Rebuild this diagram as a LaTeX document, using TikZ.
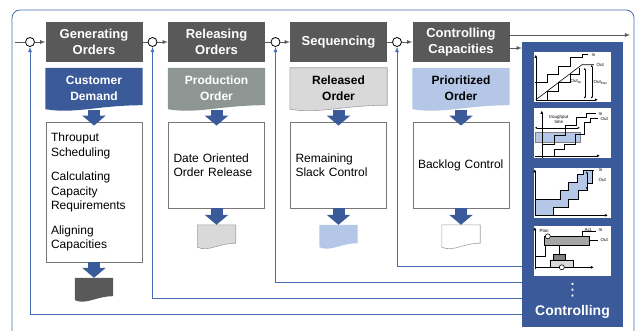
\documentclass[tikz,border=0pt]{standalone}
\usepackage{fontspec}
\setmainfont{Liberation Sans}
\newfontfamily\symfont{DejaVu Sans}
\tikzset{>=latex}
\usetikzlibrary{positioning,calc,backgrounds,arrows.meta}
\definecolor{hdrgray}{RGB}{89,89,89}
\definecolor{ctrlblue}{RGB}{59,90,154}
\definecolor{fbblue}{RGB}{72,108,180}
\definecolor{prodgray}{RGB}{141,150,146}
\definecolor{relgray}{RGB}{217,217,217}
\definecolor{prioblue}{RGB}{180,199,231}
\definecolor{boxline}{RGB}{120,120,120}
\tikzset{
  hdr/.style={fill=hdrgray, text=white, font=\fontsize{13}{16}\selectfont\bfseries, minimum width=97pt, minimum height=40pt, align=center, inner sep=0pt},
  doc/.style={minimum width=97pt, minimum height=40pt, align=center, inner sep=0pt, font=\fontsize{12}{16}\selectfont\bfseries},
  smalldoc/.style={minimum width=38pt, minimum height=21pt, inner sep=0pt},
  task/.style={draw=boxline, fill=white, line width=0.8pt, minimum width=96pt, minimum height=86pt, text width=86pt, inner xsep=5pt, align=left, font=\fontsize{12}{14.5}\selectfont},
  junction/.style={draw, circle, fill=white, inner sep=0pt, minimum size=9pt, line width=0.8pt},
  mainline/.style={draw=hdrgray, line width=0.8pt},
  fb/.style={draw=fbblue, line width=0.8pt},
  bigarrow/.style={draw=ctrlblue, line width=12pt, -{Triangle[width=23pt,length=10pt]}},
  chart/.style={fill=white, minimum width=77pt, minimum height=50pt, inner sep=0pt},
  chartlbl/.style={font=\fontsize{4.5}{5}\selectfont, inner sep=0.5pt, anchor=west},
  chartaxis/.style={line width=0.5pt, -{Latex[length=3pt,width=3pt]}},
  dbl/.style={line width=0.4pt, {Latex[length=2pt,width=2pt]}-{Latex[length=2pt,width=2pt]}}
}
\newcommand{\wavedoc}[2]{%
  \path[#2] (#1.north west) -- (#1.north east) -- ([yshift=3pt]#1.south east)
    .. controls ($(#1.south east)!0.45!(#1.south west)+(0,3pt)$) and ($(#1.south east)!0.7!(#1.south west)+(0,-6pt)$) .. ([yshift=-1pt]#1.south west) -- cycle;}

\begin{document}
\begin{tikzpicture}[x=1pt,y=-1pt]
  \useasboundingbox (0,0) rectangle (636,331);
  \draw[fb, rounded corners=8pt] (12,340) -- (12,10) -- (634,10) -- (634,340);

  \node[hdr] (h1) at (94,42) {Generating\\Orders};
  \node[hdr, right of=h1, node distance=122.5pt] (h2) {Releasing\\Orders};
  \node[hdr, right of=h2, node distance=122pt] (h3) {Sequencing};
  \node[hdr, right of=h3, node distance=122.5pt] (h4) {Controlling\\Capacities};

  \node[doc, below of=h1, node distance=46pt, text=white] (d1) {Customer\\Demand};
  \node[doc, below of=h2, node distance=46pt, text=white] (d2) {Production\\Order};
  \node[doc, below of=h3, node distance=46pt] (d3) {Released\\Order};
  \node[doc, below of=h4, node distance=46pt] (d4) {Prioritized\\Order};
  \begin{scope}[on background layer]
    \wavedoc{d1}{fill=ctrlblue}
    \wavedoc{d2}{fill=prodgray}
    \wavedoc{d3}{fill=relgray, draw=boxline!70, line width=0.6pt}
    \wavedoc{d4}{fill=prioblue}
  \end{scope}

  \node[task, below of=d1, node distance=104pt, minimum height=140pt] (b1) {Throuput\\Scheduling\\[10pt]Calculating\\Capacity\\Requirements\\[10pt]Aligning\\Capacities};
  \node[task, below of=d2, node distance=77pt] (b2) {Date Oriented\\Order Release};
  \node[task, below of=d3, node distance=77pt] (b3) {Remaining\\Slack Control};
  \node[task, below of=d4, node distance=77pt] (b4) {Backlog Control};

  \node[smalldoc, below of=b1, node distance=96.5pt] (r1) {};
  \node[smalldoc, below of=b2, node distance=70.5pt] (r2) {};
  \node[smalldoc, below of=b3, node distance=70.5pt] (r3) {};
  \node[smalldoc, below of=b4, node distance=70.5pt] (r4) {};
  \wavedoc{r1}{fill=hdrgray}
  \wavedoc{r2}{fill=relgray, draw=boxline!70, line width=0.6pt}
  \wavedoc{r3}{fill=prioblue}
  \wavedoc{r4}{fill=white, draw=boxline!70, line width=0.6pt}

  \draw[bigarrow] ([yshift=-2pt]d1.south) -- ([yshift=-4pt]b1.north);
  \draw[bigarrow] ([yshift=-2pt]d2.south) -- ([yshift=-4pt]b2.north);
  \draw[bigarrow] ([yshift=-2pt]d3.south) -- ([yshift=-4pt]b3.north);
  \draw[bigarrow] ([yshift=-2pt]d4.south) -- ([yshift=-4pt]b4.north);
  \draw[bigarrow] (b1.south) -- (r1.north);
  \draw[bigarrow] (b2.south) -- (r2.north);
  \draw[bigarrow] (b3.south) -- (r3.north);
  \draw[bigarrow] (b4.south) -- (r4.north);

  \node[junction, left of=h1, node distance=64pt] (c1) {};
  \node[junction, left of=h2, node distance=64pt] (c2) {};
  \node[junction, left of=h3, node distance=63pt] (c3) {};
  \node[junction, left of=h4, node distance=64pt] (c4) {};
  \coordinate[left of=c1, node distance=15pt] (in);
  \draw[mainline] (in) -- (c1);
  \draw[mainline,->] (c1) -- (h1);
  \draw[mainline] (h1) -- (c2);
  \draw[mainline,->] (c2) -- (h2);
  \draw[mainline] (h2) -- (c3);
  \draw[mainline,->] (c3) -- (h3);
  \draw[mainline] (h3) -- (c4);
  \draw[mainline,->] (c4) -- (h4);

  \node[fill=ctrlblue, minimum width=101pt, minimum height=285pt, inner sep=0pt] (ctrl) at (572.5,184.5) {};
  \coordinate[right of=h4, node distance=169pt, yshift=7pt] (out);
  \draw[mainline,->] ([yshift=7pt]h4.east) -- (out);
  \draw[mainline,->] ([yshift=-6pt]h4.east) -- ([yshift=-6pt]h4.east -| ctrl.west);

  \draw[fb,->] ([yshift=13pt]ctrl.south west) -| (c1);
  \draw[fb,->] ([yshift=29pt]ctrl.south west) -| (c2);
  \draw[fb,->] ([yshift=45pt]ctrl.south west) -| (c3);
  \draw[fb,->] ([yshift=61pt]ctrl.south west) -| (c4);

  \node[chart] (g1) at (572.5,77) {};
  \node[chart, below of=g1, node distance=56pt] (g2) {};
  \node[chart, below of=g2, node distance=59.5pt] (g3) {};
  \node[chart, below of=g3, node distance=58pt] (g4) {};
  \node[text=white, font=\fontsize{17}{17}\symfont, inner sep=0pt, below of=g4, node distance=40pt] (dots) {⋮};
  \node[text=white, font=\fontsize{14}{16}\selectfont\bfseries, below of=dots, node distance=21pt] (ctrltext) {Controlling};

  \begin{scope}[shift={(g1.north west)}, line width=0.6pt]
    \draw[chartaxis] (2,48) -- (2,3);
    \draw[chartaxis] (2,48) -- (64,48);
    \draw (1,31) -- (13,31) -- (13,23) -- (24,23) -- (24,15) -- (36,15) -- (36,6) -- (48,6) -- (48,3) -- (54,3);
    \draw (2,48) -- (48,13) -- (60,13);
    \draw (13,48) -- (13,40) -- (24,40) -- (24,31) -- (36,31) -- (36,23) -- (45,23) -- (45,16);
    \draw[dbl] (51,16) -- (51,47);
    \draw[dbl] (58,13) -- (58,47);
    \node[chartlbl] at (57,3) {In};
    \node[chartlbl] at (62,13) {Out};
    \node[chartlbl] at (36,30) {Out\textsubscript{Ist}};
    \node[chartlbl] at (59,31) {Out\textsubscript{Plan}};
  \end{scope}

  \begin{scope}[shift={(g2.north west)}, line width=0.6pt]
    \draw[gray, fill=prioblue, line width=0.4pt] (1,24) rectangle (46,34);
    \draw[chartaxis] (8,50) -- (8,3);
    \draw[chartaxis] (1,48) -- (66,48);
    \draw[dbl] (1,20) -- (46,20);
    \node[chartlbl, anchor=center, align=center] at (25,12) {troughput\\time};
    \draw (8,37) -- (20,37) -- (20,28) -- (31,28) -- (31,18) -- (42,18) -- (42,10) -- (52,10) -- (52,6) -- (62,6);
    \draw (20,48) -- (20,42) -- (30,42) -- (30,37) -- (41,37) -- (41,27) -- (50,27) -- (50,15) -- (56,15) -- (56,11) -- (64,11);
    \node[chartlbl] at (64,6) {In};
    \node[chartlbl] at (66,11) {Out};
  \end{scope}

  \begin{scope}[shift={(g3.north west)}, line width=0.6pt]
    \fill[prioblue] (1,32) -- (26,32) -- (26,23) -- (34,23) -- (34,15) -- (43,15) -- (43,7) -- (49,7) -- (49,3) -- (58,3) -- (58,16) -- (53,16) -- (53,23) -- (44,23) -- (44,32) -- (34,32) -- (34,40) -- (19,40) -- (19,48) -- (1,48) -- cycle;
    \draw[chartaxis] (1,49) -- (1,2);
    \draw[chartaxis] (1,48) -- (74,48);
    \draw (1,32) -- (26,32) -- (26,23) -- (34,23) -- (34,15) -- (43,15) -- (43,7) -- (49,7) -- (49,3) -- (60,3);
    \draw (19,48) -- (19,40) -- (34,40) -- (34,32) -- (44,32) -- (44,23) -- (53,23) -- (53,16) -- (58,16) -- (58,3);
    \draw[dbl] (53,4) -- (53,22);
    \node[chartlbl] at (64,3) {In};
    \node[chartlbl] at (64,13) {Out};
  \end{scope}

  \begin{scope}[shift={(g4.north west)}, line width=0.6pt]
    \draw[chartaxis] (1,44) -- (1,2);
    \draw[chartaxis] (1,42) -- (60,42);
    \node[chartlbl] at (5,6) {Plan};
    \draw (1,31) -- (11,31) -- (11,20);
    \draw (25,20) -- (25,29);
    \draw[fill=gray!70] (10,11) rectangle (55,20);
    \draw[fill=white] (14,11) circle (2.5pt);
    \draw (38,11) -- (48,11) -- (48,6) -- (62,6);
    \draw (55,15) -- (64,15);
    \draw[fill=gray] (19,29) rectangle (31,35);
    \draw[fill=gray!30] (16,35) rectangle (39,42);
    \draw[fill=white] (28,42) circle (2.5pt);
    \node[chartlbl] at (50,5) {Act.};
    \node[chartlbl] at (64,5) {In};
    \node[chartlbl] at (66,15) {Out};
  \end{scope}
\end{tikzpicture}
\end{document}
